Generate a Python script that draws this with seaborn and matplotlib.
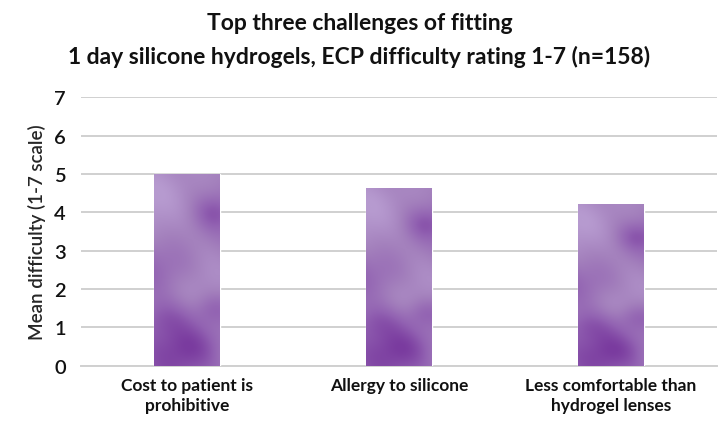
import numpy as np
import pandas as pd
import matplotlib
matplotlib.use("Agg")
import matplotlib.pyplot as plt
import seaborn as sns
from matplotlib.colors import LinearSegmentedColormap

# data
categories = ["Cost to patient is\nprohibitive", "Allergy to silicone", "Less comfortable than\nhydrogel lenses"]
mean_difficulty = [5.0, 4.63, 4.21]

df = pd.DataFrame({"challenge": categories, "score": mean_difficulty})

sns.set_theme(style="white")
plt.rcParams["font.family"] = ["Lato", "DejaVu Sans"]

fig = plt.figure(figsize=(7.19, 4.27), dpi=100)
ax = fig.add_axes([0.113, 0.141, 0.884, 0.629])

sns.barplot(data=df, x="challenge", y="score", color="#a07ab8", width=0.31, ax=ax, zorder=3)

ax.set_ylim(0, 7)
ax.set_yticks(range(0, 8))
ax.yaxis.grid(True, color="#d0d0d0", linewidth=1.4, zorder=0)
ax.set_axisbelow(True)
for s in ["top", "right", "left"]:
    ax.spines[s].set_visible(False)
ax.spines["bottom"].set_color("#d0d0d0")
ax.spines["bottom"].set_linewidth(1.4)
ax.tick_params(axis="both", length=0, colors="#111111")
ax.tick_params(axis="y", labelsize=14.5, pad=11)
ax.tick_params(axis="x", labelsize=12.5, pad=8)
for lab in ax.get_xticklabels():
    lab.set_fontweight("bold")
    lab.set_linespacing(1.3)
for lab in ax.get_yticklabels():
    lab.set_fontweight("semibold")
ax.set_xlabel("")
ax.set_ylabel("Mean difficulty (1-7 scale)", fontsize=13.5, fontweight="semibold", labelpad=6)

# soft cloudy purple texture on the bars
cmap = LinearSegmentedColormap.from_list("purp", ["#b79bd0", "#a481bd", "#9262b2", "#7a3b9f"])
yy, xx = np.mgrid[0:1:300j, 0:1:80j]
tex = (0.2 * np.sin(xx * 3.0 + yy * 5.0 + 0.5) + 0.15 * np.sin(yy * 11.0 - xx * 2.0 + 1.3)
       + 0.05 * np.sin(xx * 8.0 + yy * 17.0 + 0.7) + 0.45 * (1 - yy) ** 2)
blobs = [(0.9, 0.8, 0.2, 0.06), (0.3, 0.5, 0.35, 0.1), (0.6, 0.1, 0.3, 0.08),
         (0.9, 0.3, 0.2, 0.06), (0.2, 0.25, 0.3, 0.07)]
for bx, by, rx, ry in blobs:
    tex += 0.35 * np.exp(-((xx - bx) ** 2 / (2 * rx ** 2) + (yy - by) ** 2 / (2 * ry ** 2)))
tex = (tex - tex.min()) / (tex.max() - tex.min())
for p in ax.patches:
    x0, y0 = p.get_x(), p.get_y()
    w, h = p.get_width(), p.get_height()
    im = ax.imshow(tex, cmap=cmap, extent=[x0, x0 + w, y0, y0 + h], origin="lower",
                   aspect="auto", zorder=4, interpolation="bicubic")
    im.set_clip_path(p)
ax.set_xlim(-0.5, 2.5)
ax.set_ylim(0, 7)

fig.text(0.5, 0.944, "Top three challenges of fitting", ha="center", va="center",
         fontsize=16.5, fontweight="bold", color="#111111")
fig.text(0.5, 0.866, "1 day silicone hydrogels, ECP difficulty rating 1-7 (n=158)", ha="center",
         va="center", fontsize=16.5, fontweight="bold", color="#111111")

fig.savefig("out.png", dpi=100)
